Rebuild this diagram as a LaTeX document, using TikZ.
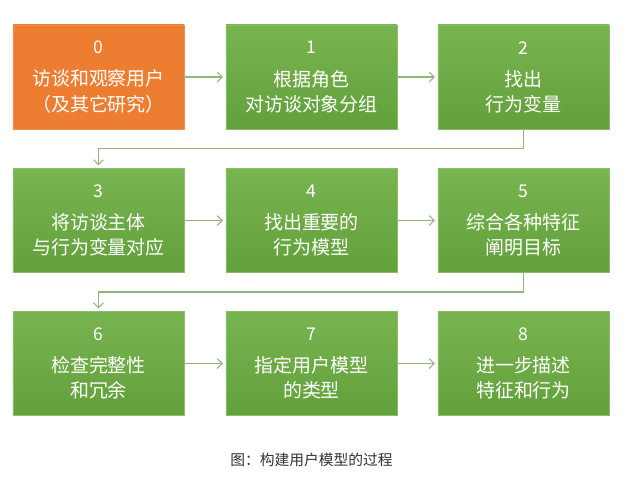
\documentclass[tikz,border=0pt]{standalone}
\usepackage{fontspec}
\setmainfont{Noto Sans CJK SC}
\usetikzlibrary{positioning, calc, arrows.meta}
\definecolor{stepgreen}{HTML}{70AD47}
\definecolor{stepgreentop}{HTML}{78B550}
\definecolor{stepgreenbot}{HTML}{62A03C}
\definecolor{startorange}{HTML}{ED7D31}
\definecolor{linkgreen}{HTML}{93B57A}
\definecolor{captiongray}{HTML}{333333}
\newcommand{\stepno}[1]{{\fontsize{12.5}{17.8}\selectfont #1}\\[5pt]}

\begin{document}
\begin{tikzpicture}[
    x=0.025cm, y=-0.025cm,
    stepbox/.style={rectangle, minimum width=4.275cm, minimum height=2.6cm, inner sep=0pt, align=center, text=white, top color=stepgreentop, bottom color=stepgreenbot, draw=stepgreen!80!white, line width=0.4pt, font=\fontsize{13.5}{17.8}\selectfont},
    startbox/.style={stepbox, top color=startorange, bottom color=startorange, draw=startorange!85!white},
    arrow/.style={-{Straight Barb[length=3.5pt, width=7pt]}, draw=linkgreen, line width=0.8pt, shorten >=2pt},
    caption/.style={font=\fontsize{10.5}{12}\selectfont, text=captiongray}
]
    \fill[white] (0,0) rectangle (627,483);
    \useasboundingbox (0,0) rectangle (627,483);

    % ================= ROW 1 =================
    \node[startbox] (interview) at (98.5, 77) {\stepno{0}访谈和观察用户\\（及其它研究）};
    \node[stepbox] (grouping) at (311.5, 77) {\stepno{1}根据角色\\对访谈对象分组};
    \node[stepbox] (variables) at (523.5, 77) {\stepno{2}找出\\行为变量};

    \draw[arrow] (interview) -- (grouping);
    \draw[arrow] (grouping) -- (variables);

    % ================= ROW 2 =================
    \node[stepbox] (mapping) at (98.5, 220.5) {\stepno{3}将访谈主体\\与行为变量对应};
    \node[stepbox] (patterns) at (311.5, 220.5) {\stepno{4}找出重要的\\行为模型};
    \node[stepbox] (goals) at (523.5, 220.5) {\stepno{5}综合各种特征\\阐明目标};

    \coordinate (bendA) at ($(variables.south)!.5!(mapping.north)$);
    \draw[arrow] (variables.south) |- (bendA) -| (mapping.north);
    \draw[arrow] (mapping) -- (patterns);
    \draw[arrow] (patterns) -- (goals);

    % ================= ROW 3 =================
    \node[stepbox] (checking) at (98.5, 363.5) {\stepno{6}检查完整性\\和冗余};
    \node[stepbox] (typing) at (311.5, 363.5) {\stepno{7}指定用户模型\\的类型};
    \node[stepbox] (describing) at (523.5, 363.5) {\stepno{8}进一步描述\\特征和行为};

    \coordinate (bendB) at ($(goals.south)!.5!(checking.north)$);
    \draw[arrow] (goals.south) |- (bendB) -| (checking.north);
    \draw[arrow] (checking) -- (typing);
    \draw[arrow] (typing) -- (describing);

    % caption
    \node[caption] (title) at (311.5, 460) {图：构建用户模型的过程};
\end{tikzpicture}
\end{document}
